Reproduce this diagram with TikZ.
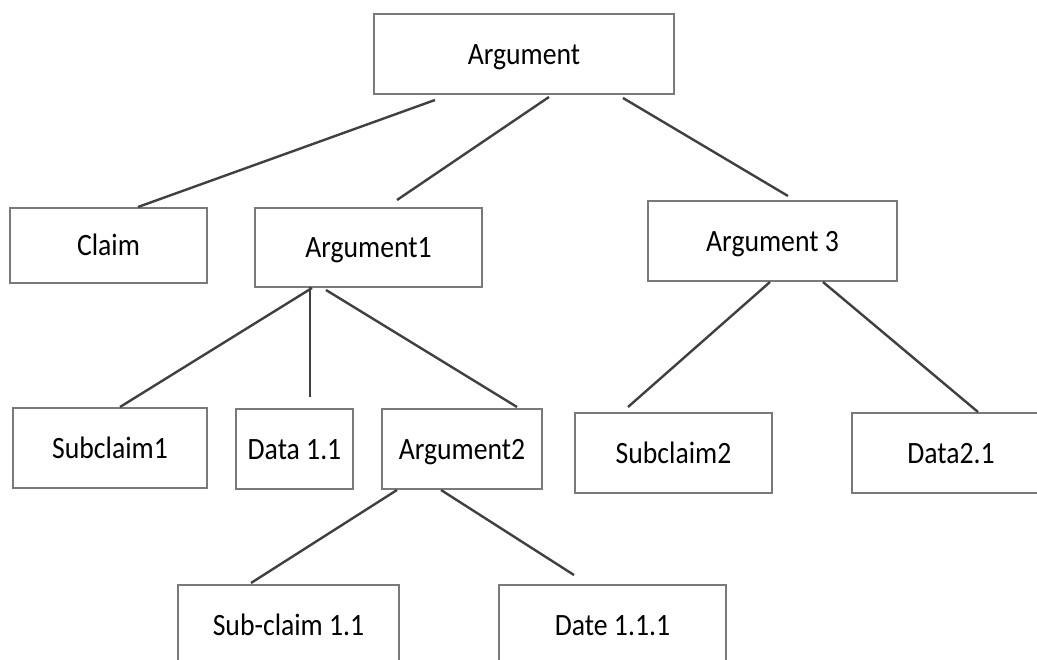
\documentclass[tikz,border=0pt]{standalone}
\usepackage{fontspec}
\setmainfont{Carlito}
\usetikzlibrary{calc}
\definecolor{boxline}{HTML}{7A7A7A}
\definecolor{conn}{HTML}{404040}
\newcommand{\lbl}[1]{\scalebox{1}[1.12]{#1}}
\tikzset{
  box/.style={draw=boxline, line width=1.3pt, fill=white, inner sep=0pt, outer sep=0pt,
    text height=25pt, text depth=4pt,
    font=\fontsize{27.7}{30}\selectfont},
  conn/.style={draw=conn, line width=2.4pt}
}
\begin{document}
\begin{tikzpicture}[x=1pt, y=-1pt]
\useasboundingbox (0,0) rectangle (1037,660);
\fill[white] (0,0) rectangle (1037,660);
\clip (0,0) rectangle (1037,660);
% boxes
\node[box, minimum width=300pt, minimum height=80pt] (arg) at (524,54) {\lbl{Argument}};
\node[box, minimum width=197pt, minimum height=75pt] (claim) at (108.5,245.5) {\lbl{Claim}};
\node[box, minimum width=227pt, minimum height=79pt] (arg1) at (368.5,247.5) {\lbl{Argument1}};
\node[box, minimum width=249pt, minimum height=80pt] (arg3) at (772.5,241) {\lbl{Argument 3}};
\node[box, minimum width=194pt, minimum height=80pt] (sub1) at (110,448) {\lbl{Subclaim1}};
\node[box, minimum width=117pt, minimum height=80pt] (data11) at (294.5,449) {\lbl{Data 1.1}};
\node[box, minimum width=160pt, minimum height=80pt] (arg2) at (462,449) {\lbl{Argument2}};
\node[box, minimum width=197pt, minimum height=80pt] (sub2) at (673.5,453) {\lbl{Subclaim2}};
\node[box, minimum width=198pt, minimum height=80pt] (data21) at (951,453) {\lbl{Data2.1}};
\node[box, minimum width=221pt, minimum height=80pt] (sub11) at (288.5,625) {\lbl{Sub-claim 1.1}};
\node[box, minimum width=227pt, minimum height=80pt] (date111) at (612.5,625) {\lbl{Date 1.1.1}};
% connectors
\draw[conn] ($(arg.south west)+(61,6)$) -- ($(claim.north west)+(128,-1)$);
\draw[conn] ($(arg.south west)+(175,3)$) -- ($(arg1.north west)+(142,-8)$);
\draw[conn] ($(arg.south west)+(249,4)$) -- ($(arg3.north west)+(140,-5)$);
\draw[conn] ($(arg1.south west)+(57,1)$) -- ($(sub1.north west)+(107,-1)$);
\draw[conn] ($(arg1.south west)+(55,0)$) -- ($(data11.north west)+(74,-12)$);
\draw[conn] ($(arg1.south west)+(71,3)$) -- ($(arg2.north west)+(135,-2)$);
\draw[conn] ($(arg3.south west)+(122,1)$) -- ($(sub2.north west)+(53,-6)$);
\draw[conn] ($(arg3.south west)+(175,1)$) -- ($(data21.north west)+(126,-1)$);
\draw[conn] ($(arg2.south west)+(15,1)$) -- ($(sub11.north west)+(73,-2)$);
\draw[conn] ($(arg2.south west)+(59,1)$) -- ($(date111.north west)+(75,-10)$);
\end{tikzpicture}
\end{document}
